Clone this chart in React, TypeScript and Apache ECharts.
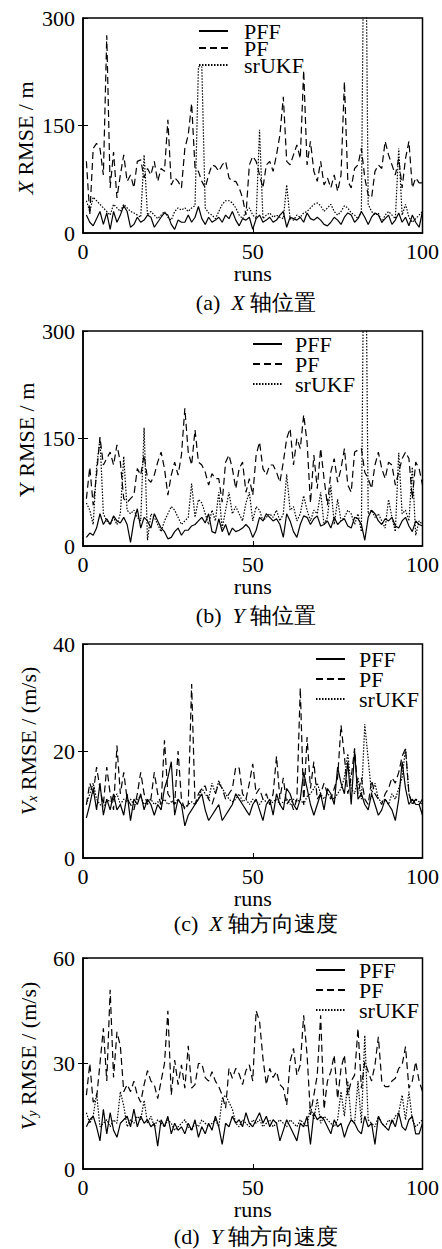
import React, { useEffect, useRef } from "react";
import * as echarts from "echarts";

const runs = Array.from({ length: 100 }, (_, i) => i + 1);
const seriesNames = ["PFF", "PF", "srUKF"];
const xTicks = [0, 50, 100];

// (a) X position RMSE
const pffX = [25,15,10,20,30,12,28,5,30,15, 25,38,30,8,12,22,15,18,25,22, 8,15,22,28,25,12,5,18,15,15, 25,15,22,37,20,12,22,15,18,22, 15,25,20,30,18,10,20,18,22,5, 20,25,15,18,22,15,18,25,30,8, 22,20,18,22,15,28,20,18,22,18, 12,10,15,22,18,12,22,28,25,15, 20,30,22,12,22,28,25,15,20,25, 12,18,28,15,22,10,25,15,8,30];
const pfX = [100,25,118,125,118,81,276,63,113,49, 81,109,72,81,63,100,102,77,90,81, 100,72,90,86,158,67,77,72,63,118, 137,181,90,86,72,63,81,95,93,86, 95,100,77,72,72,63,49,25,95,107, 100,81,63,95,100,86,109,137,190,100, 95,109,123,104,227,95,128,86,72,100, 67,77,63,81,58,81,211,72,63,90, 95,118,77,53,49,86,95,90,128,109, 95,81,104,63,104,128,63,77,70,70];
const srukfX = [45,30,50,45,40,35,30,25,40,35, 30,40,35,30,28,25,22,109,25,30, 25,20,25,30,22,18,30,35,32,35, 30,35,38,232,232,35,28,25,20,30, 40,45,45,42,35,25,20,30,35,25, 20,144,20,25,28,22,25,22,20,67, 20,18,25,22,28,30,35,40,42,38, 30,35,40,30,25,30,38,35,28,25, 20,30,600,40,30,25,28,15,25,30, 25,20,118,25,40,22,15,20,25,30];

// (b) Y position RMSE
const pffY = [12,18,15,25,45,30,38,30,42,35, 32,40,30,5,35,52,25,40,35,25, 45,35,25,20,10,12,20,25,15,22, 22,28,30,35,40,32,45,20,18,38, 20,30,15,25,20,22,25,30,25,12, 22,40,35,45,40,35,38,30,12,45, 35,20,12,30,42,40,30,38,42,28, 30,35,25,40,30,35,38,28,25,40, 38,30,8,40,50,45,35,30,38,35, 40,28,25,35,40,28,20,35,30,28];
const pfY = [66,110,57,100,152,113,122,131,113,141, 117,66,61,66,71,108,99,127,94,89, 99,117,131,108,71,99,117,99,127,192, 131,113,162,117,113,103,85,101,94,94, 61,117,127,108,80,108,117,75,94,71, 127,145,108,99,113,113,103,89,117,150, 164,113,150,136,183,145,60,127,80,136, 94,57,103,122,89,108,136,85,75,131, 134,136,103,94,80,113,131,108,94,117, 113,85,103,122,131,122,66,117,108,85];
const srukfY = [60,50,30,110,150,45,35,30,40,30, 45,125,50,45,50,40,35,165,8,45, 40,30,20,35,45,55,50,40,30,35, 40,87,40,65,60,45,30,50,35,75, 25,50,75,45,55,45,35,60,75,35, 55,50,35,40,45,40,50,35,45,100, 50,55,35,45,70,50,35,50,45,75, 30,40,85,30,65,35,40,50,45,30, 45,20,600,45,50,40,45,35,25,65, 40,20,130,45,50,35,110,15,35,30];

// (c) Vx RMSE
const pffVx = [7.5,10,13,9,14,8,11,9,12,9, 10,8,12,7,11,10,12,9,11,10, 8,10,9,13,15,18,8,11,10,6, 8,9,10,11,12,9,7,8,9,10, 7,8,9,10,12,11,10,9,8,10, 11,9,7,10,11,8,12,10,9,13, 12,10,9,11,16,13,10,8,10,12, 9,13,12,10,17,14,12,18,10,20, 11,12,10,9,12,10,8,9,11,10, 9,7,11,18,13,10,11,10,10,8];
const pfVx = [10,14,12,17,13,10,17,12,9,21, 12,16,11,10,9,12,16,12,10,11, 16,12,10,22,12,11,10,20,11,9, 10,32.5,10,12,13,13.5,11,10,12,14, 13,11,12,13,17,16.8,12,11,14,17.6, 12,13,11,12,10,12,19,11,15,10, 11,9,11,31.8,10,22.6,13,18,11,12, 14,12,11,13,15,24.8,19,12,15,20.5, 12,15,11,10,14.5,12,11,10,12,13, 15,14,16,19,20.5,12,10,11,10,11];
const srukfVx = [10,12,14,11,10,9.5,11,10.5,11,12, 10,11,10.5,11,10,11,11.5,10,10.5,11, 10,10.5,10,11,10,10.5,10,11,10,9.5, 10,10.5,10,11,13,12,11,14,12,14.5, 13,12,11,10.5,11,12,10.5,11,10,11, 10.5,10,11,10.5,10,10.5,11,10,10.5,11, 10,11,10.5,11,10,11.5,12,13,14,12, 11,12,11.5,11,12,13,15,19.5,13,12, 15,11,25,18.5,12,14,11,10.5,11,10, 12,11,13,15,20.5,12,10,11,10.5,10];

// (d) Vy RMSE
const pffVy = [12,14,15,12,8,17,10,16,11,9, 13,14,15,12,17,12,15,13,14,12, 13,6.5,14,12,15,10,13,11,12,10, 13,11,14,9,12,10,13,11,15,12, 7,13,12,15,13,14,12,16,13,12, 14,16,13,15,12,14,13,8,11,14, 12,10,8,13,12,15,7,16,14,15, 14,12,10,14,12,13,9,12,14,13, 11,10,15,12,13,7,15,13,12,11, 14,12,16,12,11,14,15,10,10,13];
const pfVy = [21,30,19,20,30,40,25,51,26,39, 35,22,24,22,25,21,19,24,28,25, 24,20,25,30,45,21,31,24,29.6,23, 35,23,24,30,30,26,25,27.7,25,23.4, 21,17.3,28.6,25.8,28.6,27,24,28,29.6,25, 45,42,31.5,24,28.6,26,27.7,24,23,18.2, 30.5,34.3,26.7,29.6,43.7,32.4,15.4,21,26.7,43.7, 17,25,27.7,32.4,20,28.6,32.4,21,25,26.7, 40,23,30.5,27.7,25,29.6,37.6,25,23.4,23.4, 25,25.8,28.6,29.6,34.8,23,25,30.5,25,22];
const srukfVy = [16,13,15,21.5,12,13,14,12,14,13, 22,18,12,14,13,15,14,19.5,13,15, 12,14,13,12,14,13,11,12,13,14, 12,11,13,12,14,13,12,13,14,12, 20,21,19,17,13,12,14,13,12,14, 13,14,12,13,14,12,13,14,13,12, 14,13,12,14,13,12,18,14,20,13, 15,14,13,12,14,22,15,25,14,13, 25,13,38,14,13,12,15,13,12,14, 13,15,16,21,14,22,14,12,13,14];

const SERIF = "Liberation Serif";
const FS = 22;

const panels = [
  { top: 18, height: 215, max: 300, interval: 150, data: [pffX, pfX, srukfX],
    legend: { left: 198, top: 20, gap: -5, pad: 11 },
    yName: "{i|X} RMSE / m", yNameX: 25, yNameY: 138,
    caption: "(a)  {i|X} 轴位置", capY: 302 },
  { top: 331, height: 215, max: 300, interval: 150, data: [pffY, pfY, srukfY],
    legend: { left: 252, top: 333, gap: -2, pad: 8 },
    yName: "Y RMSE / m", yNameX: 26, yNameY: 440,
    caption: "(b)  {i|Y} 轴位置", capY: 615 },
  { top: 644, height: 214, max: 40, interval: 20, data: [pffVx, pfVx, srukfVx],
    legend: { left: 315, top: 648, gap: -2, pad: 9 },
    yName: "{i|V}{sub|x} RMSE / (m/s)", yNameX: 28, yNameY: 741,
    caption: "(c)  {i|X} 轴方向速度", capY: 923 },
  { top: 958, height: 211, max: 60, interval: 30, data: [pffVy, pfVy, srukfVy],
    legend: { left: 315, top: 959, gap: -2, pad: 9 },
    yName: "{i|V}{sub|y} RMSE / (m/s)", yNameX: 28, yNameY: 1056,
    caption: "(d)  {i|Y} 轴方向速度", capY: 1236 },
];

const lineTypes: any[] = ["solid", [7, 4], [1.5, 1.5]];

export default function App() {
  const ref = useRef<HTMLDivElement>(null);
  useEffect(() => {
    const chart = echarts.init(ref.current!, null, { renderer: "svg" });
    const grid: any[] = [];
    const xAxis: any[] = [];
    const yAxis: any[] = [];
    const series: any[] = [];
    const legend: any[] = [];
    const graphic: any[] = [];
    const rich = {
      i: { fontStyle: "italic", fontFamily: SERIF, fontSize: FS, fill: "#000", color: "#000" },
      sub: { fontStyle: "italic", fontFamily: SERIF, fontSize: 14, verticalAlign: "bottom", fill: "#000", color: "#000", padding: [8, 0, 0, 0] },
    };
    panels.forEach((p, k) => {
      grid.push({ left: 83, top: p.top, width: 341, height: p.height, show: true, borderColor: "#000", borderWidth: 1.5, backgroundColor: "transparent" });
      xAxis.push({
        type: "value", gridIndex: k, min: 0, max: 100, interval: 50,
        axisLine: { show: true, lineStyle: { color: "#000", width: 1.5 } },
        axisTick: { show: true, inside: true, length: 5, lineStyle: { color: "#000", width: 1 } },
        axisLabel: { color: "#000", fontFamily: SERIF, fontSize: FS, margin: 7, customValues: xTicks },
        splitLine: { show: false },
        name: "runs", nameLocation: "middle", nameGap: 28,
        nameTextStyle: { color: "#000", fontFamily: SERIF, fontSize: FS },
      });
      yAxis.push({
        type: "value", gridIndex: k, min: 0, max: p.max, interval: p.interval,
        axisLine: { show: true, lineStyle: { color: "#000", width: 1.5 } },
        axisTick: { show: true, inside: true, length: 5, lineStyle: { color: "#000", width: 1 } },
        axisLabel: { color: "#000", fontFamily: SERIF, fontSize: FS, margin: 8 },
        splitLine: { show: false },
      });
      yAxis.push({
        type: "value", gridIndex: k, min: 0, max: p.max, interval: p.interval, position: "left",
        axisLine: { show: false },
        axisTick: { show: true, inside: false, length: 5, customValues: [p.interval], lineStyle: { color: "#000", width: 1 } },
        axisLabel: { show: false },
        splitLine: { show: false },
      });
      p.data.forEach((arr, s) => {
        series.push({
          type: "line", name: seriesNames[s], xAxisIndex: k, yAxisIndex: 2 * k,
          symbol: "none", showSymbol: false, clip: true, z: 3 - s,
          lineStyle: { color: "#000", width: 1.2, type: lineTypes[s] },
          itemStyle: { color: "#000" },
          data: runs.map((r, i) => [r, arr[i]]),
        });
      });
      legend.push({
        data: seriesNames, orient: "vertical", left: p.legend.left, top: p.legend.top,
        padding: 0, itemGap: p.legend.gap, itemWidth: 29, itemHeight: 10,
        itemStyle: { opacity: 0 },
        textStyle: { color: "#000", fontFamily: SERIF, fontSize: FS, padding: [0, 0, 0, p.legend.pad] },
      });
      graphic.push({
        type: "text", x: p.yNameX, y: p.yNameY, rotation: Math.PI / 2,
        style: { text: p.yName, fill: "#000", fontFamily: SERIF, fontSize: FS, align: "center", verticalAlign: "middle", rich },
      });
      graphic.push({
        type: "text", x: 256, y: p.capY,
        style: { text: p.caption, fill: "#000", fontFamily: SERIF, fontSize: FS, align: "center", verticalAlign: "middle", rich },
      });
    });
    chart.setOption({ animation: false, backgroundColor: "#fff", grid, xAxis, yAxis, series, legend, graphic });
    return () => chart.dispose();
  }, []);
  return <div ref={ref} style={{ position: "absolute", left: 0, top: 0, width: 442, height: 1249 }} />;
}
